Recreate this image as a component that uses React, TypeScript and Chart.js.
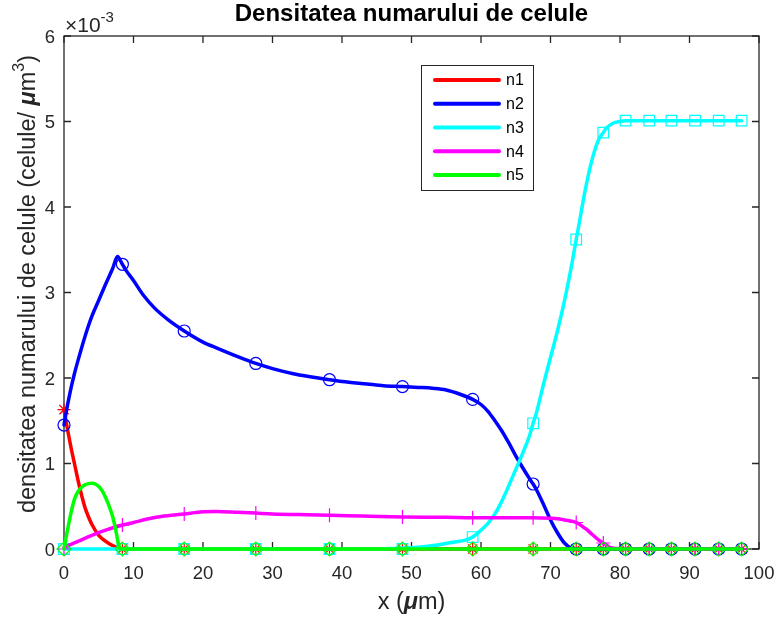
import React, { useEffect, useRef } from "react";
import { Chart, registerables } from "chart.js";

Chart.register(...registerables);

// ---------- data (densities in units of 10^-3 celule/µm^3, x in µm) ----------
const chartTitle = "Densitatea numarului de celule";
const xTickValues = [0, 10, 20, 30, 40, 50, 60, 70, 80, 90, 100];
const yTickValues = [0, 1, 2, 3, 4, 5, 6];
const seriesNames = ["n1", "n2", "n3", "n4", "n5"];
const seriesColors = ["#ff0000", "#0000ff", "#00ffff", "#ff00ff", "#00ff00"];
const markerStyles = ["star", "circle", "rect", "cross", "rectRot"];
const markerSizes = [6.5, 6, 7.5, 7, 7];

const n1X = [0, 0.5, 1, 1.5, 2, 2.5, 3, 3.5, 4, 5, 6, 7, 8, 8.4, 97.5];
const n1Y = [1.63, 1.4, 1.19, 1.0, 0.81, 0.64, 0.49, 0.38, 0.29, 0.16, 0.09, 0.04, 0.01, 0, 0];

const n2X = [0, 0.5, 1, 1.5, 2, 3, 4, 5, 6, 7, 7.7, 8.4, 9, 10, 11.4, 13, 15, 17.3, 20, 22, 25, 27.6, 30, 33, 35, 38.2, 40, 43.6, 46, 48.7, 51, 53, 55, 57, 58.8, 60, 61, 62, 63, 64, 65, 66, 67, 67.5, 68, 69, 70, 71, 72, 73, 74, 97.5];
const n2Y = [1.45, 1.68, 1.88, 2.05, 2.2, 2.48, 2.72, 2.91, 3.1, 3.28, 3.42, 3.33, 3.25, 3.14, 2.97, 2.82, 2.68, 2.55, 2.42, 2.35, 2.25, 2.17, 2.11, 2.05, 2.02, 1.98, 1.96, 1.93, 1.91, 1.9, 1.89, 1.88, 1.86, 1.81, 1.75, 1.69, 1.61, 1.5, 1.38, 1.24, 1.09, 0.95, 0.82, 0.76, 0.69, 0.52, 0.34, 0.19, 0.07, 0.01, 0, 0];

const n3X = [0, 45, 48, 50, 52, 54, 56, 58, 58.8, 60, 61, 62, 63, 64, 65, 66, 67, 67.5, 68, 69, 70, 71, 72, 73, 73.7, 74, 75, 76, 77, 77.6, 78, 79, 80, 80.8, 97.5];
const n3Y = [0, 0, 0.01, 0.015, 0.03, 0.05, 0.08, 0.11, 0.14, 0.22, 0.3, 0.41, 0.56, 0.74, 0.93, 1.12, 1.33, 1.47, 1.6, 1.93, 2.24, 2.55, 2.9, 3.3, 3.62, 3.75, 4.2, 4.56, 4.8, 4.87, 4.92, 4.98, 5.0, 5.01, 5.01];

const n4X = [0, 2, 4, 6, 8.4, 10, 12, 14, 17.3, 20, 22, 25, 27.6, 30, 35, 38.2, 43, 48.7, 55, 58.8, 65, 67.5, 70, 71, 72, 73.7, 75, 76, 77, 77.6, 78.5, 79.5, 80.8, 97.5];
const n4Y = [0.02, 0.09, 0.16, 0.22, 0.28, 0.31, 0.35, 0.38, 0.41, 0.435, 0.44, 0.43, 0.42, 0.41, 0.4, 0.395, 0.385, 0.375, 0.37, 0.365, 0.365, 0.365, 0.36, 0.355, 0.34, 0.31, 0.24, 0.17, 0.1, 0.07, 0.02, 0.005, 0, 0];

const n5X = [0, 0.5, 1, 1.5, 2, 2.5, 3, 3.5, 4, 4.5, 5, 5.5, 6, 6.5, 7, 7.5, 7.8, 8.1, 8.4, 97.5];
const n5Y = [0, 0.22, 0.42, 0.58, 0.67, 0.72, 0.75, 0.765, 0.77, 0.76, 0.73, 0.68, 0.6, 0.5, 0.38, 0.2, 0.07, 0, 0, 0];

const markerX = [0, 8.4, 17.3, 27.6, 38.2, 48.7, 58.8, 67.5, 73.7, 77.6, 80.8, 84.2, 87.4, 90.8, 94.2, 97.5];
const n1Markers = [1.63, 0, 0, 0, 0, 0, 0, 0, 0, 0, 0, 0, 0, 0, 0, 0];
const n2Markers = [1.45, 3.33, 2.55, 2.17, 1.98, 1.9, 1.75, 0.76, 0, 0, 0, 0, 0, 0, 0, 0];
const n3Markers = [0, 0, 0, 0, 0, 0, 0.14, 1.47, 3.62, 4.87, 5.01, 5.01, 5.01, 5.01, 5.01, 5.01];
const n4Markers = [0, 0.28, 0.41, 0.42, 0.395, 0.375, 0.365, 0.365, 0.31, 0.07, 0, 0, 0, 0, 0, 0];
const n5Markers = [0, 0, 0, 0, 0, 0, 0, 0, 0, 0, 0, 0, 0, 0, 0, 0];

const lineXs = [n1X, n2X, n3X, n4X, n5X];
const lineYs = [n1Y, n2Y, n3Y, n4Y, n5Y];
const markerYs = [n1Markers, n2Markers, n3Markers, n4Markers, n5Markers];

// ---------- styling ----------
const FAM = "'Liberation Sans', Arial, Helvetica, sans-serif";
const AXIS = "#262626";
const TICK_LEN = 7;
const LABEL_PX = 23.5;

type Run = { t: string; f: string; dy?: number };

function runsWidth(ctx: CanvasRenderingContext2D, runs: Run[]) {
  let w = 0;
  for (const r of runs) {
    ctx.font = r.f;
    w += ctx.measureText(r.t).width;
  }
  return w;
}

function drawRuns(ctx: CanvasRenderingContext2D, runs: Run[], x: number, y: number) {
  let cx = x;
  for (const r of runs) {
    ctx.font = r.f;
    ctx.fillText(r.t, cx, y + (r.dy || 0));
    cx += ctx.measureText(r.t).width;
  }
}

const decorPlugin = {
  id: "decor",
  beforeDatasetsDraw(chart: any) {
    const { ctx, chartArea: a, scales } = chart;
    const xs = scales.x;
    const ys = scales.y;
    ctx.save();
    ctx.fillStyle = "#ffffff";
    ctx.fillRect(a.left, a.top, a.right - a.left, a.bottom - a.top);
    ctx.strokeStyle = AXIS;
    ctx.lineWidth = 1.3;
    ctx.strokeRect(a.left, a.top, a.right - a.left, a.bottom - a.top);
    ctx.beginPath();
    for (const t of xTickValues) {
      const px = xs.getPixelForValue(t);
      ctx.moveTo(px, a.bottom);
      ctx.lineTo(px, a.bottom - TICK_LEN);
      ctx.moveTo(px, a.top);
      ctx.lineTo(px, a.top + TICK_LEN);
    }
    for (const t of yTickValues) {
      const py = ys.getPixelForValue(t);
      ctx.moveTo(a.left, py);
      ctx.lineTo(a.left + TICK_LEN, py);
      ctx.moveTo(a.right, py);
      ctx.lineTo(a.right - TICK_LEN, py);
    }
    ctx.stroke();
    ctx.restore();
  },
  afterDraw(chart: any) {
    const { ctx, chartArea: a, scales } = chart;
    const xs = scales.x;
    const ys = scales.y;
    const cxPlot = (a.left + a.right) / 2;
    ctx.save();
    ctx.fillStyle = AXIS;
    ctx.textBaseline = "alphabetic";

    // tick labels
    ctx.font = `18.5px ${FAM}`;
    ctx.textAlign = "center";
    for (const t of xTickValues) {
      ctx.fillText(String(t), xs.getPixelForValue(t), a.bottom + 29.5);
    }
    ctx.textAlign = "right";
    for (const t of yTickValues) {
      ctx.fillText(String(t), a.left - 9, ys.getPixelForValue(t) + 6.5);
    }

    // exponent
    ctx.textAlign = "left";
    drawRuns(ctx, [
      { t: "\u00d710", f: `21px ${FAM}` },
      { t: "-3", f: `15px ${FAM}`, dy: -10 },
    ], a.left + 1, a.top - 4.5);

    // title
    ctx.fillStyle = "#000000";
    ctx.textAlign = "center";
    ctx.font = `bold 24px ${FAM}`;
    ctx.fillText(chartTitle, cxPlot, 21);

    // x label
    ctx.fillStyle = AXIS;
    ctx.textAlign = "left";
    const xl: Run[] = [
      { t: "x (", f: `${LABEL_PX}px ${FAM}` },
      { t: "\u03bc", f: `italic bold ${LABEL_PX}px ${FAM}` },
      { t: "m)", f: `${LABEL_PX}px ${FAM}` },
    ];
    const xw = runsWidth(ctx, xl);
    drawRuns(ctx, xl, cxPlot - xw / 2, 609);

    // y label
    const yl: Run[] = [
      { t: "densitatea numarului de celule (celule/ ", f: `${LABEL_PX}px ${FAM}` },
      { t: "\u03bc", f: `italic bold ${LABEL_PX}px ${FAM}` },
      { t: "m", f: `${LABEL_PX}px ${FAM}` },
      { t: "3", f: `16px ${FAM}`, dy: -11 },
      { t: ")", f: `${LABEL_PX}px ${FAM}` },
    ];
    const yw = runsWidth(ctx, yl);
    ctx.save();
    ctx.translate(34.5, 284);
    ctx.rotate(-Math.PI / 2);
    drawRuns(ctx, yl, -yw / 2, 0);
    ctx.restore();

    // legend
    const lx = 421.5, ly = 65.5, lw = 112, lh = 125;
    ctx.fillStyle = "#ffffff";
    ctx.fillRect(lx, ly, lw, lh);
    ctx.strokeStyle = AXIS;
    ctx.lineWidth = 1;
    ctx.strokeRect(lx, ly, lw, lh);
    ctx.textBaseline = "middle";
    ctx.textAlign = "left";
    ctx.font = `16px ${FAM}`;
    seriesNames.forEach((name, i) => {
      const y = 80 + i * 23.75;
      ctx.strokeStyle = seriesColors[i];
      ctx.lineWidth = 4;
      ctx.lineCap = "round";
      ctx.beginPath();
      ctx.moveTo(435, y);
      ctx.lineTo(499, y);
      ctx.stroke();
      ctx.fillStyle = "#000000";
      ctx.fillText(name, 506, y + 1);
    });
    ctx.restore();
  },
};

export default function App() {
  const canvasRef = useRef<HTMLCanvasElement | null>(null);

  useEffect(() => {
    const canvas = canvasRef.current;
    if (!canvas) return;
    const datasets: any[] = [];
    seriesNames.forEach((name, i) => {
      datasets.push({
        label: name,
        data: lineXs[i].map((x, k) => ({ x, y: lineYs[i][k] })),
        borderColor: seriesColors[i],
        borderWidth: 3.5,
        borderCapStyle: "round",
        borderJoinStyle: "round",
        pointRadius: 0,
        fill: false,
        cubicInterpolationMode: "monotone",
        clip: false,
        order: -(2 * i),
      });
      datasets.push({
        label: name + " markers",
        data: markerX.map((x, k) => ({ x, y: markerYs[i][k] })),
        showLine: false,
        pointStyle: markerStyles[i],
        pointRadius: markerSizes[i],
        pointBorderColor: seriesColors[i],
        pointBackgroundColor: "rgba(0,0,0,0)",
        pointBorderWidth: 1.2,
        clip: false,
        order: -(2 * i + 1),
      });
    });

    const chart = new Chart(canvas, {
      type: "line",
      data: { datasets },
      options: {
        animation: false,
        responsive: false,
        devicePixelRatio: 1,
        events: [],
        layout: { padding: { left: 64, top: 36, right: 18, bottom: 70 } },
        scales: {
          x: { type: "linear", min: 0, max: 100, display: false },
          y: { type: "linear", min: 0, max: 6, display: false },
        },
        plugins: {
          legend: { display: false },
          tooltip: { enabled: false },
          title: { display: false },
        },
      },
      plugins: [decorPlugin],
    });
    return () => chart.destroy();
  }, []);

  return (
    <div style={{ position: "absolute", left: 0, top: 0, width: 777, height: 619, background: "#ffffff" }}>
      <canvas ref={canvasRef} width={777} height={619} style={{ display: "block", width: 777, height: 619 }} />
    </div>
  );
}
